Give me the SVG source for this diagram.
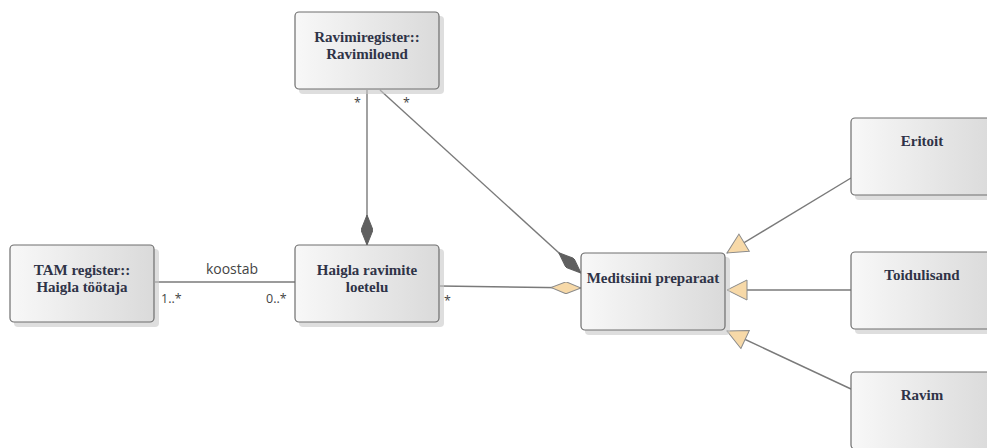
<svg xmlns="http://www.w3.org/2000/svg" width="987" height="448" viewBox="0 0 987 448">
<style>
.box{fill:url(#g);stroke:#6e6e6e;stroke-width:1.2}
.sh{fill:#c8c8c8;opacity:0.6}
.t{font-family:"Liberation Serif",serif;font-weight:bold;font-size:15px;fill:#2f3347;text-anchor:middle}
.ln{stroke:#7a7a7a;stroke-width:1.4;fill:none}
.lb{font-family:"Open Sans","DejaVu Sans",sans-serif;font-size:12.5px;fill:#444}
.kb{font-size:14px}
</style>
<defs>
<linearGradient id="g" x1="0" y1="0" x2="1" y2="0">
<stop offset="0" stop-color="#f8f8f8"/>
<stop offset="1" stop-color="#dadada"/>
</linearGradient>
<marker id="fd" viewBox="0 0 30 12" refX="30" refY="6" markerWidth="30" markerHeight="12" markerUnits="userSpaceOnUse" orient="auto">
<path d="M0,6 L15,0 L30,6 L15,12 Z" fill="#5f5f5f" stroke="#5f5f5f"/>
</marker>
<marker id="hd" viewBox="0 0 30 12" refX="30" refY="6" markerWidth="30" markerHeight="12" markerUnits="userSpaceOnUse" orient="auto">
<path d="M0,6 L15,0 L30,6 L15,12 Z" fill="#f7d9a8" stroke="#8a8a8a"/>
</marker>
<marker id="tr" viewBox="0 0 22 22" refX="21" refY="11" markerWidth="22" markerHeight="22" markerUnits="userSpaceOnUse" orient="auto">
<path d="M1,1 L21,11 L1,21 Z" fill="#f7d9a8" stroke="#8a8a8a"/>
</marker>
</defs>
<g id="connectors">
<line class="ln" x1="155" y1="282" x2="295" y2="282"/>
<text class="lb kb" x="232" y="274" text-anchor="middle">koostab</text>
<text class="lb" x="161" y="303">1..*</text>
<text class="lb" x="266" y="303">0..*</text>
<line class="ln" x1="367" y1="90" x2="367" y2="245" marker-end="url(#fd)"/>
<text class="lb" x="354" y="107">*</text>
<line class="ln" x1="380" y1="90" x2="581" y2="273" marker-end="url(#fd)"/>
<text class="lb" x="403" y="107">*</text>
<line class="ln" x1="440" y1="286" x2="581" y2="288" marker-end="url(#hd)"/>
<text class="lb" x="444" y="305">*</text>
<line class="ln" x1="851" y1="178" x2="727" y2="253" marker-end="url(#tr)"/>
<line class="ln" x1="851" y1="290" x2="727" y2="290" marker-end="url(#tr)"/>
<line class="ln" x1="851" y1="389" x2="727" y2="331" marker-end="url(#tr)"/>
</g>
<g id="ravimiloend">
<rect class="sh" x="299" y="16" width="145" height="78" rx="4"/>
<rect class="box" x="295" y="12" width="144" height="77" rx="4"/>
<text class="t" x="367" y="42">Ravimiregister::</text>
<text class="t" x="367" y="59">Ravimiloend</text>
</g>
<g id="haigla-tootaja">
<rect class="sh" x="14" y="249" width="145" height="78" rx="4"/>
<rect class="box" x="10" y="245" width="144" height="77" rx="4"/>
<text class="t" x="82" y="275">TAM register::</text>
<text class="t" x="82" y="292">Haigla töötaja</text>
</g>
<g id="haigla-ravimite-loetelu">
<rect class="sh" x="299" y="249" width="145" height="78" rx="4"/>
<rect class="box" x="295" y="245" width="144" height="77" rx="4"/>
<text class="t" x="367" y="275">Haigla ravimite</text>
<text class="t" x="367" y="292">loetelu</text>
</g>
<g id="meditsiini-preparaat">
<rect class="sh" x="585" y="257" width="145" height="78" rx="4"/>
<rect class="box" x="581" y="253" width="144" height="77" rx="4"/>
<text class="t" x="653" y="283">Meditsiini preparaat</text>
</g>
<g id="eritoit">
<rect class="sh" x="855" y="122" width="145" height="78" rx="4"/>
<rect class="box" x="851" y="118" width="144" height="77" rx="4"/>
<text class="t" x="922" y="146">Eritoit</text>
</g>
<g id="toidulisand">
<rect class="sh" x="855" y="256" width="145" height="78" rx="4"/>
<rect class="box" x="851" y="252" width="144" height="77" rx="4"/>
<text class="t" x="922" y="280">Toidulisand</text>
</g>
<g id="ravim">
<rect class="sh" x="855" y="376" width="145" height="78" rx="4"/>
<rect class="box" x="851" y="372" width="144" height="77" rx="4"/>
<text class="t" x="922" y="400">Ravim</text>
</g>
</svg>
